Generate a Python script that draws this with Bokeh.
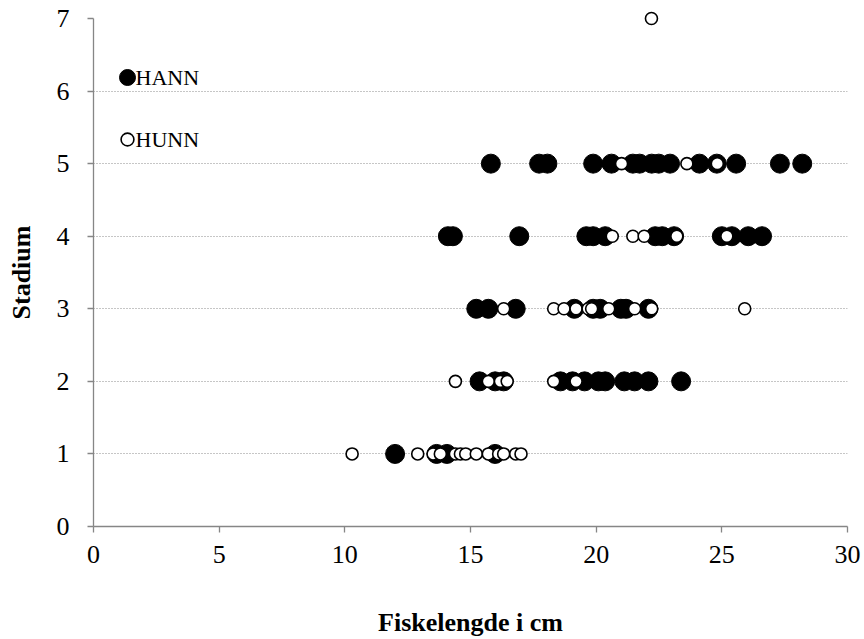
from bokeh.plotting import figure
from bokeh.models import Range1d, FixedTicker, Legend, LegendItem, Label
from bokeh.embed import file_html
from bokeh.resources import INLINE

# HANN (filled) : lengths per stadium
hann_len = [12.0, 13.65, 14.06, 15.98,
            15.36, 15.98, 16.32, 18.58, 19.06, 19.54, 20.09, 20.36, 21.12, 21.53, 22.08, 23.38,
            15.23, 15.71, 16.80, 19.13, 19.88, 20.16, 20.98, 21.19, 22.08,
            14.1, 14.3, 16.94, 19.61, 19.88, 20.36, 22.35, 22.63, 23.1, 25.0, 25.4, 26.05, 26.60,
            15.81, 17.73, 18.06, 19.88, 20.61, 21.46, 21.73, 22.21, 22.49, 22.94, 24.11, 24.8, 25.57, 27.31, 28.20]
hann_stad = [1] * 4 + [2] * 12 + [3] * 9 + [4] * 13 + [5] * 15

# HUNN (open) : lengths per stadium
hunn_len = [10.29, 12.90, 13.51, 13.8, 14.40, 14.6, 14.81, 15.23, 15.71, 16.12, 16.32, 16.80, 17.01,
            14.40, 15.71, 16.19, 16.46, 18.31, 19.20,
            16.32, 18.31, 18.72, 19.20, 19.68, 19.82, 20.50, 21.53, 22.21, 25.91,
            20.64, 21.46, 21.91, 23.21, 25.20,
            21.01, 23.61, 24.82,
            22.2]
hunn_stad = [1] * 13 + [2] * 6 + [3] * 10 + [4] * 5 + [5] * 3 + [7]

series_names = ["HANN", "HUNN"]
x_ticks = [0, 5, 10, 15, 20, 25, 30]
y_ticks = [0, 1, 2, 3, 4, 5, 6, 7]

p = figure(width=864, height=639, output_backend="svg", toolbar_location=None,
           x_range=Range1d(0, 30), y_range=Range1d(0, 7),
           min_border_left=93, min_border_right=17, min_border_top=18, min_border_bottom=113)
p.outline_line_color = None
p.background_fill_color = "white"

r_hann = p.scatter(hann_len, hann_stad, size=19, marker="circle",
                   fill_color="black", line_color="black", line_width=1)
r_hunn = p.scatter(hunn_len, hunn_stad, size=12, marker="circle",
                   fill_color="white", line_color="black", line_width=1.6, level="overlay")

for ax in (p.xaxis, p.yaxis):
    ax.axis_line_color = "#868686"
    ax.axis_line_width = 1.3
    ax.major_tick_line_color = "#868686"
    ax.major_tick_line_width = 1.3
    ax.major_tick_in = 0
    ax.major_tick_out = 6
    ax.minor_tick_line_color = None
    ax.major_label_text_font = "Liberation Serif"
    ax.major_label_text_font_size = "26px"
    ax.major_label_text_color = "black"
    ax.axis_label_text_font = "Liberation Serif"
    ax.axis_label_text_font_style = "bold"
    ax.axis_label_text_font_size = "26px"
    ax.axis_label_text_color = "black"

p.xaxis.ticker = FixedTicker(ticks=x_ticks)
p.yaxis.ticker = FixedTicker(ticks=y_ticks)
p.xaxis.major_label_standoff = 13
p.yaxis.major_label_standoff = 18
p.xaxis.axis_label = "Fiskelengde i cm"
p.yaxis.axis_label = "Stadium"
p.xaxis.axis_label_standoff = 42
p.yaxis.axis_label_standoff = 18

p.xgrid.grid_line_color = None
p.ygrid.ticker = FixedTicker(ticks=[1, 2, 3, 4, 5, 6, 7])
p.ygrid.grid_line_color = "#8c8c8c"
p.ygrid.grid_line_dash = "1 2"
p.ygrid.grid_line_width = 1

common = dict(padding=0, margin=0, border_line_alpha=0, background_fill_alpha=0,
              label_text_font_size="1px", label_text_alpha=0, label_width=0, label_standoff=0)
leg1 = Legend(items=[LegendItem(label=" ", renderers=[r_hann])],
              location=(14, 429), glyph_width=40, glyph_height=40, label_height=40, **common)
leg2 = Legend(items=[LegendItem(label=" ", renderers=[r_hunn])],
              location=(18, 371), glyph_width=32, glyph_height=32, label_height=32, **common)
p.add_layout(leg1)
p.add_layout(leg2)

for name, ypos in zip(series_names, [449, 387]):
    p.add_layout(Label(x=42, y=ypos, x_units="screen", y_units="screen", text=name,
                       text_font="Liberation Serif", text_font_size="22px",
                       text_color="black", text_baseline="middle", text_align="left"))

open("out.html", "w").write(file_html(p, INLINE))
